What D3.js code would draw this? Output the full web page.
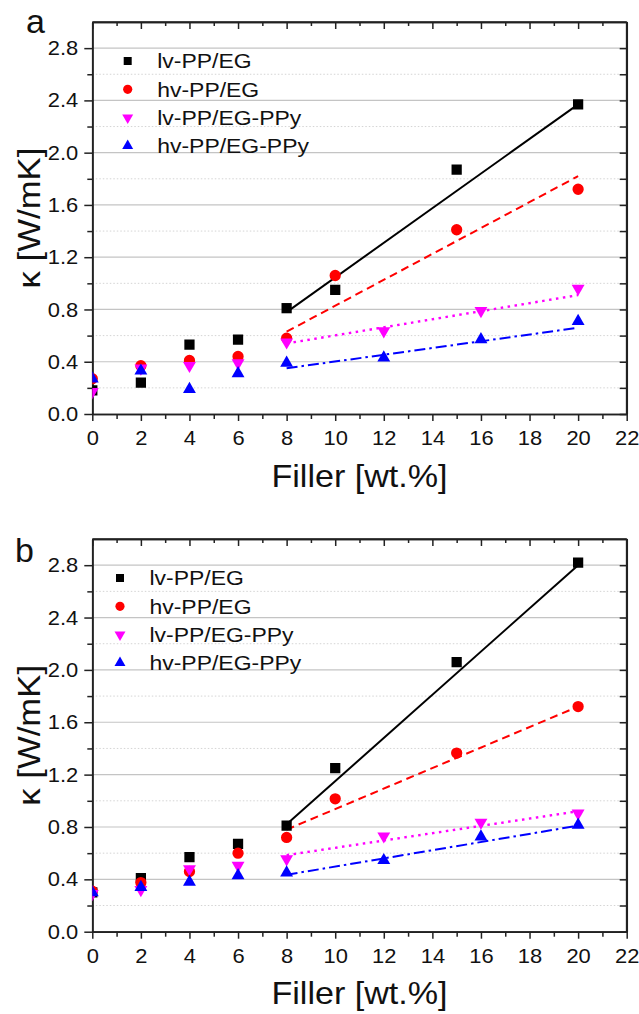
<!DOCTYPE html>
<html><head><meta charset="utf-8">
<script src="https://cdn.jsdelivr.net/npm/d3@7"></script>
<style>
body{margin:0;background:#fff}
svg{display:block}
text{font-family:"Liberation Sans",Arial,sans-serif;fill:#111}
</style>
</head><body>
<svg id="c" width="639" height="1014"></svg>
<script>
// ---------- data ----------
const seriesNames = ["lv-PP/EG", "hv-PP/EG", "lv-PP/EG-PPy", "hv-PP/EG-PPy"];
const seriesColors = ["#000000", "#ff0000", "#ff00ff", "#0000ff"];
const xEG  = [0, 2, 4, 6, 8, 10, 15, 20];
const xPPy = [0, 2, 4, 6, 8, 12, 16, 20];

// panel a
const aLvEG  = [0.18, 0.24, 0.53, 0.57, 0.81, 0.95, 1.87, 2.37];
const aHvEG  = [0.27, 0.37, 0.41, 0.44, 0.58, 1.06, 1.41, 1.72];
const aLvPPy = [0.17, 0.35, 0.37, 0.39, 0.55, 0.635, 0.79, 0.96];
const aHvPPy = [0.27, 0.33, 0.19, 0.31, 0.39, 0.43, 0.57, 0.71];
// panel b
const bLvEG  = [0.30, 0.41, 0.57, 0.67, 0.81, 1.25, 2.06, 2.82];
const bHvEG  = [0.31, 0.375, 0.46, 0.60, 0.72, 1.015, 1.365, 1.72];
const bLvPPy = [0.29, 0.32, 0.48, 0.505, 0.555, 0.73, 0.835, 0.905];
const bHvPPy = [0.30, 0.34, 0.38, 0.43, 0.45, 0.545, 0.725, 0.815];

// linear fit lines (x = 8 .. 20), end values
const fitX = [8, 20];
const aFitLvEG  = [0.78, 2.37];
const aFitHvEG  = [0.63, 1.82];
const aFitLvPPy = [0.54, 0.91];
const aFitHvPPy = [0.35, 0.66];
const bFitLvEG  = [0.82, 2.80];
const bFitHvEG  = [0.78, 1.72];
const bFitLvPPy = [0.585, 0.92];
const bFitHvPPy = [0.435, 0.81];

const xMajor = [0, 2, 4, 6, 8, 10, 12, 14, 16, 18, 20, 22];
const xMinor = [1, 3, 5, 7, 9, 11, 13, 15, 17, 19, 21];
const yMajor = [0.0, 0.4, 0.8, 1.2, 1.6, 2.0, 2.4, 2.8];
const yMinor = [0.2, 0.6, 1.0, 1.4, 1.8, 2.2, 2.6];
const xTitle = "Filler [wt.%]";
const yTitle = "κ [W/mK]";

// ---------- drawing ----------
const svg = d3.select("#c");
const dashes = [null, "8,5", "2.5,4.5", "11,4,2.5,4"];
const symbols = [d3.symbolSquare, d3.symbolCircle, d3.symbolTriangle, d3.symbolTriangle];
const symSize = [105, 100, 72, 72];
const legSize = [64, 66, 52, 52];
const rot = [0, 0, 180, 0];

function stretchText(sel, s) {
  sel.each(function () {
    const t = d3.select(this);
    const x = +t.attr("x") || 0;
    t.attr("x", x / s).attr("transform", `scale(${s},1)`);
  });
}

const panels = [
  { id: "a", top: 22, bottom: 414, label: "a", labelX: 26, labelY: 33, legX: 127.7,
    ys: [aLvEG, aHvEG, aLvPPy, aHvPPy], fits: [aFitLvEG, aFitHvEG, aFitLvPPy, aFitHvPPy] },
  { id: "b", top: 539, bottom: 931.7, label: "b", labelX: 15, labelY: 562, legX: 120,
    ys: [bLvEG, bHvEG, bLvPPy, bHvPPy], fits: [bFitLvEG, bFitHvEG, bFitLvPPy, bFitHvPPy] }
];
const left = 92.3, right = 626.7;

panels.forEach(p => {
  const x = d3.scaleLinear().domain([0, 22]).range([left, right]);
  const y = d3.scaleLinear().domain([0, 3.0]).range([p.bottom, p.top]);
  const g = svg.append("g");

  g.append("clipPath").attr("id", "clip" + p.id).append("rect")
    .attr("x", left).attr("y", p.top).attr("width", right - left).attr("height", p.bottom - p.top);

  // grid
  g.append("g").selectAll("line").data(yMinor).join("line")
    .attr("x1", left).attr("x2", right).attr("y1", d => y(d)).attr("y2", d => y(d))
    .attr("stroke", "#d4d4d4").attr("stroke-width", 1).attr("stroke-dasharray", "1.5,2");
  g.append("g").selectAll("line").data(yMajor.filter(d => d > 0)).join("line")
    .attr("x1", left).attr("x2", right).attr("y1", d => y(d)).attr("y2", d => y(d))
    .attr("stroke", "#c4c4c4").attr("stroke-width", 1.2);

  // axes
  const axStyle = sel => {
    sel.selectAll("path.domain").attr("stroke", "#222").attr("stroke-width", 1.7);
    sel.selectAll(".tick line").attr("stroke", "#222").attr("stroke-width", 1.5);
  };
  const gl = g.append("g").attr("transform", `translate(${left},0)`)
    .call(d3.axisLeft(y).tickValues(yMajor).tickSize(8).tickSizeOuter(0).tickPadding(6).tickFormat(d3.format(".1f")));
  gl.call(axStyle);
  g.append("g").attr("transform", `translate(${left},0)`)
    .call(d3.axisLeft(y).tickValues(yMinor).tickSize(5).tickSizeOuter(0).tickFormat("")).call(axStyle);
  const gb = g.append("g").attr("transform", `translate(0,${p.bottom})`)
    .call(d3.axisBottom(x).tickValues(xMajor).tickSize(7).tickSizeOuter(0).tickPadding(9.5));
  gb.call(axStyle);
  g.append("g").attr("transform", `translate(0,${p.bottom})`)
    .call(d3.axisBottom(x).tickValues(xMinor).tickSize(5).tickSizeOuter(0).tickFormat("")).call(axStyle);
  g.append("g").attr("transform", `translate(0,${p.top})`)
    .call(d3.axisTop(x).tickValues(xMajor).tickSize(-7).tickSizeOuter(0).tickFormat("")).call(axStyle);
  g.append("g").attr("transform", `translate(0,${p.top})`)
    .call(d3.axisTop(x).tickValues(xMinor).tickSize(-4).tickSizeOuter(0).tickFormat("")).call(axStyle);
  g.append("g").attr("transform", `translate(${right},0)`)
    .call(d3.axisRight(y).tickValues(yMajor.concat(yMinor)).tickSize(-7).tickSizeOuter(0).tickFormat("")).call(axStyle);
  // close frame ends
  g.append("line").attr("x1", left).attr("x2", right).attr("y1", p.top).attr("y2", p.top)
    .attr("stroke", "#222").attr("stroke-width", 1.7);
  g.append("line").attr("x1", right).attr("x2", right).attr("y1", p.top).attr("y2", p.bottom)
    .attr("stroke", "#222").attr("stroke-width", 1.7);

  [gl, gb].forEach(a => a.selectAll("text").attr("font-size", 20.5)
    .attr("font-family", '"Liberation Sans",Arial,sans-serif').attr("fill", "#111"));
  gl.selectAll("text").call(stretchText, 1.07);
  gb.selectAll("text").call(stretchText, 1.07);

  // fit lines
  const line = d3.line().x(d => x(d[0])).y(d => y(d[1]));
  const fg = g.append("g").attr("clip-path", `url(#clip${p.id})`);
  p.fits.forEach((f, i) => {
    fg.append("path").datum(fitX.map((xv, k) => [xv, f[k]]))
      .attr("d", line).attr("fill", "none").attr("stroke", seriesColors[i])
      .attr("stroke-width", i === 2 ? 2.4 : 2).attr("stroke-dasharray", dashes[i]);
  });

  // markers
  const mg = g.append("g").attr("clip-path", `url(#clip${p.id})`);
  p.ys.forEach((vals, i) => {
    const xs = i < 2 ? xEG : xPPy;
    const sym = d3.symbol().type(symbols[i]).size(symSize[i]);
    mg.append("g").selectAll("path").data(vals.map((v, k) => [xs[k], v])).join("path")
      .attr("d", sym)
      .attr("transform", d => `translate(${x(d[0])},${y(d[1])}) rotate(${rot[i]})`)
      .attr("fill", seriesColors[i]);
  });

  // legend
  const lg = g.append("g");
  seriesNames.forEach((name, i) => {
    const ly = p.top + 39 + i * 28.3;
    lg.append("path").attr("d", d3.symbol().type(symbols[i]).size(legSize[i]))
      .attr("transform", `translate(${p.legX},${ly}) rotate(${rot[i]})`)
      .attr("fill", seriesColors[i]);
    lg.append("text").attr("transform", `translate(${p.legX + 29.5},${ly + 7.3}) scale(1.12,1)`)
      .attr("font-size", 20.5).text(name);
  });

  // titles
  g.append("text").attr("transform", `translate(${(left + right) / 2},${p.bottom + 72.5}) scale(1.1,1)`)
    .attr("text-anchor", "middle").attr("font-size", 31).text(xTitle);
  g.append("text").attr("transform", `translate(40,${(p.top + p.bottom) / 2}) rotate(-90) scale(1.12,1)`)
    .attr("text-anchor", "middle").attr("font-size", 31).text(yTitle);
  g.append("text").attr("transform", `translate(${p.labelX},${p.labelY})`)
    .attr("font-size", 34).text(p.label);
});
</script>
</body></html>
